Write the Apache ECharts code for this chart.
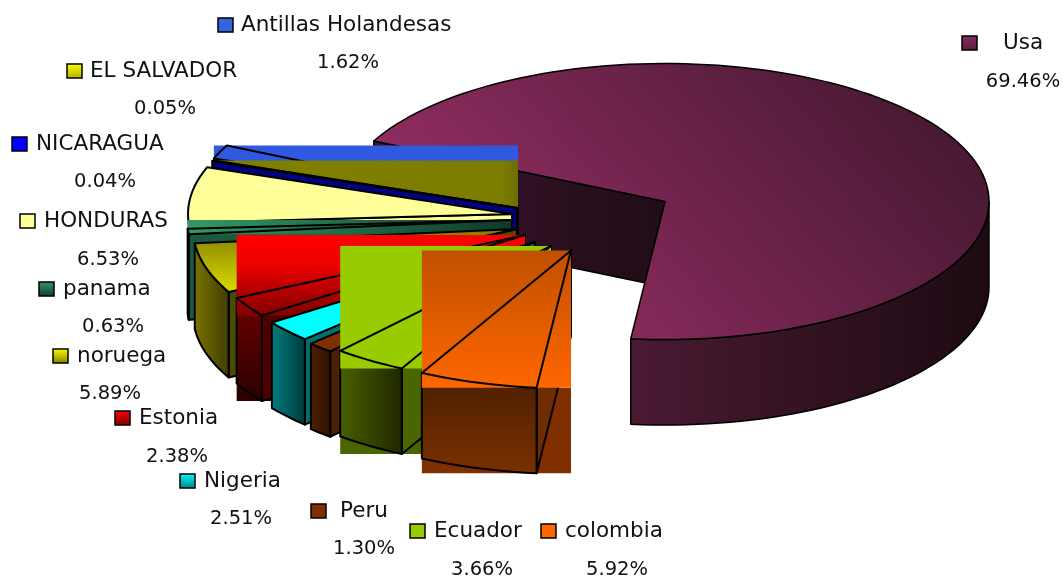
<!DOCTYPE html>
<html><head><meta charset="utf-8">
<style>html,body{margin:0;padding:0;background:#fff}#c{width:1063px;height:579px}</style>
<script src="https://cdn.jsdelivr.net/npm/echarts@6/dist/echarts.min.js"></script>
</head><body><div id="c"></div>
<script>
// DATA: back-to-front, running counter-clockwise from the cut at the front of the pie
const categories = ['Usa','Antillas Holandesas','EL SALVADOR','NICARAGUA','HONDURAS','panama','noruega','Estonia','Nigeria','Peru','Ecuador','colombia'];
const percentages = [69.46,1.62,0.05,0.04,6.53,0.63,5.89,2.38,2.51,1.30,3.66,5.92];

// LAYOUT
const RX = 324, RY = 138, DEPTH = 85.5, LAST_ANGLE = 456.06, CX = 517, CY = 215;
const explode = [[148,-13.5],[1,-9],[1,-7],[0,-7],[-5,-1],[-6,5],[0,14],[8,20],[18,27],[24,31.5],[34,31],[54,35.5]];
const legendPos = [[962,43,1003,1023,82],[218,25,241,348,63],[67,71,90,165,109],[12,144,36,105,182],[20,221,44,108,260],[39,289,63,113,327],[53,356,77,110,394],[115,418,139,177,457],[180,481,204,241,519],[311,511,340,364,549],[410,531,434,482,570],[541,531,565,617,570]];
const LG = (a,b,c,d,stops)=>new echarts.graphic.LinearGradient(a,b,c,d,stops.map((s,i)=>({offset:s[0],color:s[1]})));
const V = (stops)=>LG(0,0,0,1,stops), H = (stops)=>LG(0,0,1,0,stops);
const styles = [
 {top:LG(0.3,1,0.8,0,[[0,'#8f2c60'],[1,'#4a1a34']]),lw:1.5,wall:H([[0,'#4a1a32'],[1,'#1c0a12']]),cut:H([[0,'#3e1630'],[1,'#200c16']]),key:V([[0,'#8a2c60'],[1,'#5a1c40']])},
 {top:'#3059e0',rect:true,cut:'#3059e0',wall:'#3059e0',key:'#3366dd'},
 {top:H([[0,'#808000'],[0.95,'#7c7c00'],[1,'#6c6c00']]),rect:true,cut:'#808000',wall:'#808000',key:V([[0,'#ffff00'],[1,'#b0b000']])},
 {top:'#000080',cut:'#000080',wall:'#000080',key:'#0000ff'},
 {top:'#ffff99',cut:'#ffff99',noWall:true,key:'#ffff99'},
 {top:H([[0,'#339966'],[0.5,'#1f6a48'],[1,'#0e3a28']]),rect:true,side:H([[0,'#1b5a40'],[1,'#0e3a28']]),cut:'#1b5a40',wall:'#1b5a40',key:V([[0,'#339966'],[1,'#103c2a']])},
 {top:V([[0,'#807a00'],[1,'#dcdc00']]),wall:H([[0,'#7c7400'],[1,'#3c3c00']]),cut:'#4a4a00',key:V([[0,'#ffff00'],[1,'#808000']])},
 {top:V([[0,'#ff0000'],[0.35,'#f00000'],[1,'#800000']]),rect:true,side:'#300000',wall:V([[0,'#700000'],[1,'#2a0000']]),cut:'#500000',key:V([[0,'#ff0000'],[1,'#800000']])},
 {top:'#00ffff',wall:H([[0,'#008080'],[1,'#003838']]),cut:'#007070',key:V([[0,'#00ffff'],[1,'#008080']])},
 {top:'#803000',wall:H([[0,'#4c2000'],[1,'#2c1200']]),cut:'#4c2000',key:'#803000'},
 {top:'#99cc00',rect:true,side:'#4a6400',wall:H([[0,'#4a6000'],[1,'#1f2600']]),cut:'#4a6600',key:'#99cc00'},
 {top:V([[0,'#c05000'],[1,'#ff6600']]),rect:true,side:'#803000',wall:V([[0,'#4a1e00'],[1,'#7a3000']]),cut:'#6e2c00',key:'#ff6600'}
];
const NAME_FONT = '21.5px "DejaVu Sans"', SHARE_FONT = '19.5px "DejaVu Sans"';
const STROKE = '#000';

function sliceRange(i){
  let end = LAST_ANGLE;
  for(let k=0;k<i;k++) end -= percentages[k]*3.6;
  return [end - percentages[i]*3.6, end];
}
function renderItem(params, api){
  const i = params.dataIndex, value = api.value(0);
  const st = styles[i];
  const cx = CX + explode[i][0], cy = CY + explode[i][1];
  const [t0,t1] = sliceRange(i);
  const P = (t,h)=>{const r=t*Math.PI/180;return [cx+RX*Math.cos(r),cy+RY*Math.sin(r)+(h||0)];};
  const arc = (a,b,h)=>{const n=Math.max(2,Math.ceil((b-a)/2)),o=[];for(let k=0;k<=n;k++)o.push(P(a+(b-a)*k/n,h));return o;};
  const poly=(pts,fill)=>({type:'polygon',silent:true,shape:{points:pts},style:{fill:fill,stroke:STROKE,lineWidth:st.lw||2,lineJoin:'round'}});
  const kids=[];
  const topPts=[[cx,cy]].concat(arc(t0,t1));
  const xs=topPts.map(p=>p[0]), ys=topPts.map(p=>p[1]);
  const bx=Math.min(...xs), bX=Math.max(...xs), by=Math.min(...ys), bY=Math.max(...ys);
  if(st.side) kids.push({type:'rect',silent:true,shape:{x:bx,y:bY,width:bX-bx,height:DEPTH},style:{fill:st.side}});
  kids.push(poly([[cx,cy],P(t0),P(t0,DEPTH),[cx,cy+DEPTH]],st.cut));
  if(!st.noWall){
    [[0,180],[360,540]].forEach(b=>{
      const a=Math.max(t0,b[0]), e=Math.min(t1,b[1]);
      if(e>a){ kids.push(poly(arc(a,e).concat(arc(a,e,DEPTH).reverse()),st.wall)); }
    });
  }
  if(st.rect) kids.push({type:'rect',silent:true,shape:{x:bx,y:by,width:bX-bx,height:bY-by},style:{fill:st.top}});
  kids.push(poly(topPts,st.rect?'none':st.top));
  const lp=legendPos[i];
  kids.push({type:'rect',silent:true,shape:{x:lp[0],y:lp[1]-7,width:15,height:14},style:{fill:st.key,stroke:'#000',lineWidth:1.5}});
  kids.push({type:'text',silent:true,style:{text:categories[i],x:lp[2],y:lp[1],font:NAME_FONT,fill:'#111',textAlign:'left',textVerticalAlign:'middle'}});
  kids.push({type:'text',silent:true,style:{text:value.toFixed(2)+'%',x:lp[3],y:lp[4],font:SHARE_FONT,fill:'#111',textAlign:'center',textVerticalAlign:'middle'}});
  return {type:'group',children:kids};
}
const chart = echarts.init(document.getElementById('c'),null,{renderer:'canvas'});
chart.setOption({
  backgroundColor:'#fff',animation:false,
  series:[{type:'custom',coordinateSystem:'none',renderItem:renderItem,clip:false,
    encode:{value:0},data:percentages.map(v=>[v])}]
});
</script></body></html>
